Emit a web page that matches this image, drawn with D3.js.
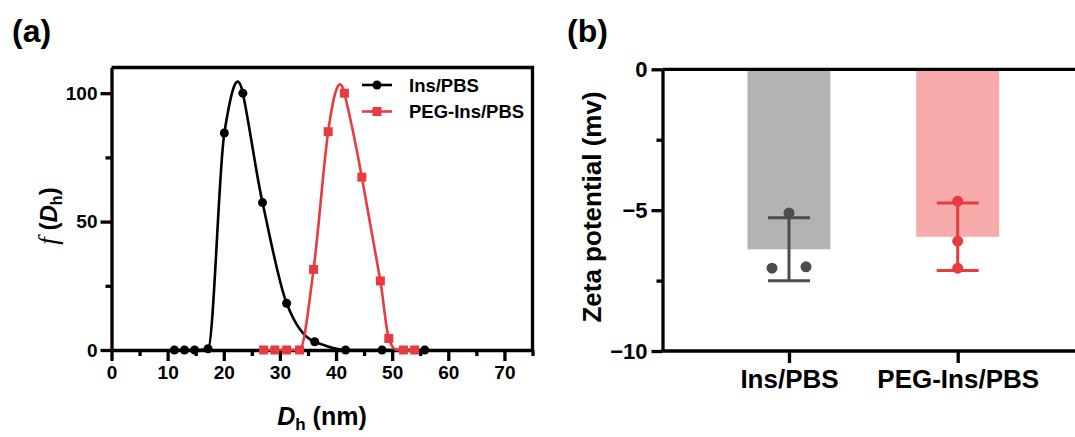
<!DOCTYPE html>
<html>
<head>
<meta charset="utf-8">
<script src="https://cdn.jsdelivr.net/npm/d3@7"></script>
<style>
  body { margin: 0; background: #fff; font-family: "Liberation Sans", Arial, sans-serif; }
  svg text { font-weight: bold; fill: #000; }
</style>
</head>
<body>
<svg id="chart" width="1075" height="437"></svg>
<script>
// panel (a): size distribution
let insSize = [11.2, 13.0, 14.8, 17.2, 20.1, 23.4, 26.9, 31.2, 36.2, 41.7, 48.2, 55.8];
let insFreq = [0, 0, 0, 0.5, 84.5, 100, 57.4, 18.2, 3.2, 0, 0, 0];
let pegSize = [27.1, 29.1, 31.2, 33.5, 36.0, 38.6, 41.5, 44.6, 47.9, 49.4, 52.0, 54.0];
let pegFreq = [0, 0, 0, 0, 31.4, 85, 100, 67.3, 26.9, 4.5, 0, 0];
let xTicksA = [0, 10, 20, 30, 40, 50, 60, 70];
let yTicksA = [0, 50, 100];

// panel (b): zeta potential, three replicates each
let groups = ["Ins/PBS", "PEG-Ins/PBS"];
let zetaIns = [-5.10, -7.06, -7.01];
let zetaPeg = [-4.68, -6.10, -7.06];
let yTicksB = [0, -5, -10];

let black = "#000";
let red = "#e83b40";
let axisW = 3.3;
let svg = d3.select("#chart");

// Akima spline as a d3 curve (smooth line through the points, no wiggle on flat runs)
function curveAkima(context) {
    let xs, ys;
    return {
        areaStart() {}, areaEnd() {},
        lineStart() { xs = []; ys = []; },
        point(x, y) { xs.push(+x); ys.push(+y); },
        lineEnd() {
            let n = xs.length;
            if (n < 2) return;
            let M = new Array(n + 3);
            for (let i = 0; i < n - 1; i++) M[i + 2] = (ys[i + 1] - ys[i]) / (xs[i + 1] - xs[i]);
            M[1] = 2 * M[2] - M[3]; M[0] = 2 * M[1] - M[2];
            M[n + 1] = 2 * M[n] - M[n - 1]; M[n + 2] = 2 * M[n + 1] - M[n];
            let t = d3.range(n).map(i => {
                let w1 = Math.abs(M[i + 3] - M[i + 2]), w2 = Math.abs(M[i + 1] - M[i]);
                return w1 + w2 > 1e-9 ? (w1 * M[i + 1] + w2 * M[i + 2]) / (w1 + w2) : (M[i + 1] + M[i + 2]) / 2;
            });
            context.moveTo(xs[0], ys[0]);
            for (let i = 0; i < n - 1; i++) {
                let h = (xs[i + 1] - xs[i]) / 3;
                context.bezierCurveTo(xs[i] + h, ys[i] + t[i] * h, xs[i + 1] - h, ys[i + 1] - t[i + 1] * h, xs[i + 1], ys[i + 1]);
            }
        }
    };
}

function style_axis(a, size) {
    a.select(".domain").attr("stroke-width", axisW);
    a.selectAll("line").attr("stroke-width", axisW);
    a.selectAll("text").attr("font-size", size).attr("font-family", "Liberation Sans").attr("fill", black);
}

function draw_panel_a() {
    let x = d3.scaleLinear().domain([0, 75]).range([111.5, 532.5]);
    let y = d3.scaleLinear().domain([0, 110]).range([350, 67.5]);

    let g = svg.append("g");

    // frame top + right
    g.append("path")
        .attr("d", `M${x(0)},${y(110)}H${x(75)}V${y(0)}`)
        .attr("fill", "none").attr("stroke", black).attr("stroke-width", axisW);

    // minor ticks
    g.append("g")
        .attr("transform", `translate(0,${y(0)})`)
        .call(d3.axisBottom(x).tickValues(d3.range(5, 80, 10)).tickSize(6).tickFormat(""))
        .call(a => a.select(".domain").remove())
        .call(a => a.selectAll("line").attr("stroke-width", axisW));
    g.append("g")
        .attr("transform", `translate(${x(0)},0)`)
        .call(d3.axisLeft(y).tickValues([25, 75]).tickSize(6).tickFormat(""))
        .call(a => a.select(".domain").remove())
        .call(a => a.selectAll("line").attr("stroke-width", axisW));

    // major axes
    g.append("g")
        .attr("transform", `translate(0,${y(0)})`)
        .call(d3.axisBottom(x).tickValues(xTicksA).tickSize(11).tickSizeOuter(0).tickPadding(5))
        .call(a => style_axis(a, 19));
    g.append("g")
        .attr("transform", `translate(${x(0)},0)`)
        .call(d3.axisLeft(y).tickValues(yTicksA).tickSize(11).tickSizeOuter(0).tickPadding(3))
        .call(a => style_axis(a, 19));

    let line = d3.line()
        .x(d => x(d[0]))
        .y(d => y(d[1]))
        .curve(curveAkima);

    let ins = d3.zip(insSize, insFreq);
    let peg = d3.zip(pegSize, pegFreq);

    g.append("path").datum(ins)
        .attr("d", line).attr("fill", "none").attr("stroke", black).attr("stroke-width", 2.6);
    g.append("path").datum(peg)
        .attr("d", line).attr("fill", "none").attr("stroke", red).attr("stroke-width", 2.6);

    g.append("g").selectAll("rect").data(peg).join("rect")
        .attr("x", d => x(d[0]) - 4.5).attr("y", d => y(d[1]) - 4.5)
        .attr("width", 9).attr("height", 9).attr("fill", red);
    g.append("g").selectAll("circle").data(ins).join("circle")
        .attr("cx", d => x(d[0])).attr("cy", d => y(d[1])).attr("r", 4.5).attr("fill", black);

    // legend
    let leg = g.append("g").attr("transform", "translate(362,85)");
    leg.append("line").attr("x1", 0).attr("x2", 30).attr("stroke", black).attr("stroke-width", 2.6);
    leg.append("circle").attr("cx", 15).attr("r", 4.5).attr("fill", black);
    leg.append("text").attr("x", 47).attr("y", 6.5).attr("font-size", 18.5).text("Ins/PBS");
    leg.append("line").attr("x1", 0).attr("x2", 30).attr("y1", 26.5).attr("y2", 26.5)
        .attr("stroke", red).attr("stroke-width", 2.6);
    leg.append("rect").attr("x", 10.5).attr("y", 22).attr("width", 9).attr("height", 9).attr("fill", red);
    leg.append("text").attr("x", 47).attr("y", 33).attr("font-size", 18.5).text("PEG-Ins/PBS");

    // axis titles
    let xt = g.append("text").attr("x", 322).attr("y", 425).attr("text-anchor", "middle").attr("font-size", 25);
    xt.append("tspan").attr("font-style", "italic").text("D");
    xt.append("tspan").attr("font-size", 17).attr("dy", 5).text("h");
    xt.append("tspan").attr("dy", -5).text(" (nm)");

    let yt = g.append("text").attr("transform", "translate(57,216) rotate(-90)")
        .attr("text-anchor", "middle").attr("font-size", 24);
    yt.append("tspan").attr("font-family", "Liberation Serif").attr("font-style", "italic")
        .attr("font-weight", "normal").attr("font-size", 27).text("f");
    yt.append("tspan").text(" (");
    yt.append("tspan").attr("font-style", "italic").text("D");
    yt.append("tspan").attr("font-size", 16).attr("dy", 5).text("h");
    yt.append("tspan").attr("dy", -5).text(")");

    svg.append("text").attr("x", 12).attr("y", 42).attr("font-size", 32).text("(a)");
}

// spread replicate points that would overlap (like a scatter dot plot)
function spread(values, y, gap) {
    let idx = d3.range(values.length).sort((a, b) => values[a] - values[b]);
    let off = new Array(values.length).fill(0);
    let cluster = [idx[0]];
    let flush = () => {
        cluster.forEach((k, j) => off[k] = (j - (cluster.length - 1) / 2) * gap);
    };
    for (let i = 1; i < idx.length; i++) {
        if (Math.abs(y(values[idx[i]]) - y(values[cluster[cluster.length - 1]])) < 10) cluster.push(idx[i]);
        else { flush(); cluster = [idx[i]]; }
    }
    flush();
    return off;
}

function draw_panel_b() {
    let y = d3.scaleLinear().domain([-10, 0]).range([351, 69.3]);
    let x = d3.scalePoint().domain(groups).range([789, 957.7]);
    let left = 662.5, right = 1080;

    let g = svg.append("g");
    let data = [
        {key: groups[0], vals: zetaIns, bar: "#b3b3b3", dot: "#4d4d4d"},
        {key: groups[1], vals: zetaPeg, bar: "#f8abab", dot: red}
    ];

    g.selectAll(".bar").data(data).join("rect")
        .attr("x", d => x(d.key) - 41.5).attr("width", 83)
        .attr("y", y(0)).attr("height", d => y(d3.mean(d.vals)) - y(0))
        .attr("fill", d => d.bar);

    // error bars: mean ± SD
    data.forEach(d => {
        let m = d3.mean(d.vals), s = d3.deviation(d.vals);
        let cx = x(d.key);
        let eg = g.append("g").attr("stroke", d.dot).attr("stroke-width", 3);
        eg.append("line").attr("x1", cx).attr("x2", cx).attr("y1", y(m + s)).attr("y2", y(m - s));
        [m + s, m - s].forEach(v => eg.append("line")
            .attr("x1", cx - 21).attr("x2", cx + 21).attr("y1", y(v)).attr("y2", y(v)));
        let off = spread(d.vals, y, 34);
        g.append("g").selectAll("circle").data(d.vals).join("circle")
            .attr("cx", (v, i) => cx + off[i]).attr("cy", v => y(v)).attr("r", 5.5).attr("fill", d.dot);
    });

    // axes
    g.append("line").attr("x1", left).attr("x2", right).attr("y1", y(0)).attr("y2", y(0))
        .attr("stroke", black).attr("stroke-width", axisW);
    g.append("line").attr("x1", left).attr("x2", right).attr("y1", y(-10)).attr("y2", y(-10))
        .attr("stroke", black).attr("stroke-width", axisW);

    g.append("g")
        .attr("transform", `translate(${left},0)`)
        .call(d3.axisLeft(y).tickValues([-2.5, -7.5]).tickSize(6).tickFormat(""))
        .call(a => a.select(".domain").remove())
        .call(a => a.selectAll("line").attr("stroke-width", axisW));
    g.append("g")
        .attr("transform", `translate(${left},0)`)
        .call(d3.axisLeft(y).tickValues(yTicksB).tickSize(11).tickSizeOuter(0).tickPadding(4))
        .call(a => style_axis(a, 22));

    g.append("g")
        .attr("transform", `translate(0,${y(-10)})`)
        .call(d3.axisBottom(x).tickSize(12).tickPadding(7))
        .call(a => a.select(".domain").remove())
        .call(a => style_axis(a, 26));

    g.append("text").attr("transform", "translate(601,207) rotate(-90)")
        .attr("text-anchor", "middle").attr("font-size", 26).text("Zeta potential (mv)");

    svg.append("text").attr("x", 567).attr("y", 42).attr("font-size", 32).text("(b)");
}

draw_panel_a();
draw_panel_b();
</script>
</body>
</html>
